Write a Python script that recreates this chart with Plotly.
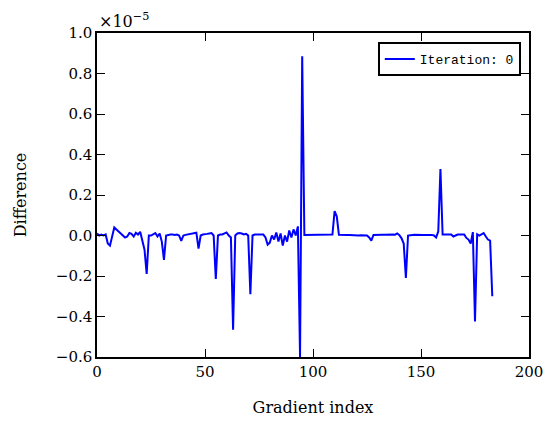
import plotly.graph_objects as go

# Gradient difference values (units of 1e-5), index 0..183
diff = [
    0.01, 0.0, 0.005, 0.0, 0.005, -0.04, -0.05, 0.0, 0.04, 0.03,
    0.02, 0.01, 0.0, -0.01, -0.005, 0.012, 0.008, -0.005, 0.014, 0.005,
    0.018, -0.03, -0.07, -0.19, 0.0, 0.0, 0.005, 0.012, -0.005, 0.01,
    -0.03, -0.12, 0.0, 0.003, 0.005, 0.005, 0.003, 0.005, 0.0, -0.027,
    0.0, 0.003, 0.005, 0.005, 0.008, 0.01, 0.014, -0.065, 0.0, 0.005,
    0.005, 0.008, 0.01, 0.012, 0.0, -0.215, 0.0, 0.005, 0.005, 0.01,
    0.015, 0.0, -0.01, -0.465, 0.0, 0.01, 0.012, 0.01, 0.005, 0.008,
    0.0, -0.29, 0.0, 0.005, 0.005, 0.005, 0.005, 0.005, -0.01, -0.045,
    -0.035, 0.0, -0.02, 0.015, -0.03, 0.01, -0.05, 0.0, -0.03, 0.025,
    -0.01, 0.03, 0.0, 0.045, -0.6, 0.885, 0.003, 0.003, 0.004, 0.003,
    0.003, 0.004, 0.003, 0.003, 0.004, 0.003, 0.003, 0.004, 0.003, 0.005,
    0.12, 0.095, 0.003, 0.002, 0.002, 0.003, 0.002, 0.002, 0.001, 0.002,
    0.001, 0.0, 0.001, 0.0, 0.0, 0.0, -0.01, -0.025, 0.003, 0.004,
    0.004, 0.005, 0.004, 0.004, 0.005, 0.004, 0.004, 0.005, 0.004, 0.01,
    0.002, -0.014, -0.04, -0.21, 0.0, 0.003, 0.003, 0.004, 0.003, 0.003,
    0.004, 0.003, 0.003, 0.004, 0.003, 0.003, 0.0, -0.01, 0.02, 0.328,
    0.005, 0.005, 0.005, 0.005, 0.005, -0.005, 0.0, 0.005, 0.005, 0.005,
    0.005, -0.012, -0.02, -0.04, 0.017, -0.425, 0.006, 0.0, 0.005, 0.012,
    -0.005, -0.02, -0.025, -0.30,
]
index = list(range(len(diff)))
series_name = "Iteration: 0"
x_ticks = [0, 50, 100, 150, 200]
y_ticks = [-0.6, -0.4, -0.2, 0.0, 0.2, 0.4, 0.6, 0.8, 1.0]

FONT = "DejaVu Serif"

fig = go.Figure()
fig.add_trace(go.Scatter(
    x=index, y=diff, mode="lines", name=series_name,
    line=dict(color="#0000ff", width=2),
))

axis_common = dict(
    showline=True, linecolor="black", linewidth=1.5, mirror="ticks",
    ticks="inside", ticklen=8, tickwidth=1, tickcolor="black",
    showgrid=False, zeroline=False, ticklabeloverflow="allow",
    automargin=False,
    tickfont=dict(family=FONT, size=15, color="black"),
)

fig.update_layout(
    width=548, height=423,
    margin=dict(l=97, r=19, t=33, b=66),
    paper_bgcolor="white", plot_bgcolor="white",
    font=dict(family=FONT, size=15, color="black"),
    showlegend=True,
    legend=dict(
        x=0.981, y=0.972, xanchor="right", yanchor="top",
        bordercolor="black", borderwidth=2, bgcolor="white",
        font=dict(family="Liberation Mono", size=13, color="black"),
        itemwidth=30,
    ),
    xaxis=dict(range=[0, 200], tickvals=x_ticks,
               title=dict(text="Gradient index", font=dict(family=FONT, size=16), standoff=22),
               **axis_common),
    yaxis=dict(range=[-0.6, 1.0], tickvals=y_ticks, tickformat=".1f",
               title=dict(text="Difference", font=dict(family=FONT, size=16), standoff=25),
               **axis_common),
)

fig.add_annotation(
    x=0, y=1, xref="paper", yref="paper", xanchor="left", yanchor="bottom",
    text="×10<sup>−5</sup>", showarrow=False, yshift=0,
    font=dict(family=FONT, size=16, color="black"),
)

post = (
    "document.documentElement.style.overflow='hidden';"
    "document.body.style.overflow='hidden';"
    "document.body.style.margin='0';"
    "var gd=document.getElementById('{plot_id}');"
    "gd.style.width='548px';gd.style.height='423px';"
    "Plotly.relayout(gd,{width:548,height:423});"
)
fig.write_html("out.html", post_script=post,
               config={"displayModeBar": False, "responsive": False})
